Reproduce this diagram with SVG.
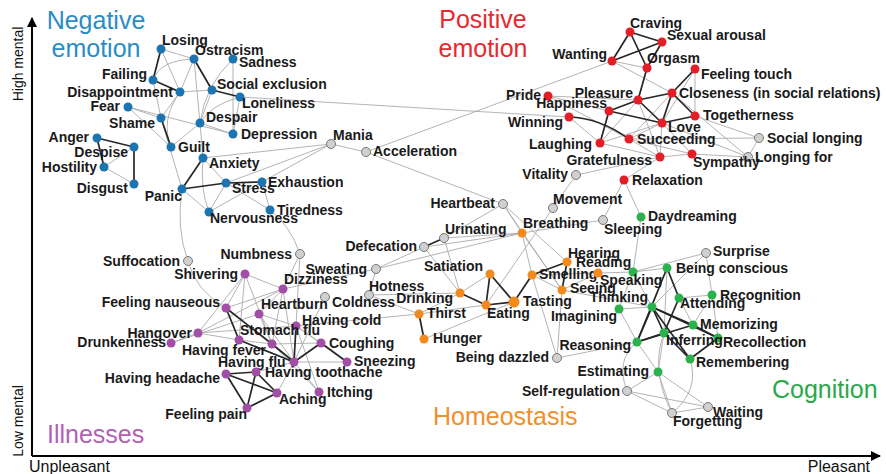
<svg xmlns="http://www.w3.org/2000/svg" width="886" height="474" viewBox="0 0 886 474">
<style>
text{font-family:"Liberation Sans",Arial,Helvetica,sans-serif}
.node text{font-weight:bold;font-size:14px;fill:#1a1a1a}
.e{text-anchor:end}
.node circle{r:4.5}
.blue circle{fill:#1c74b0}
.red circle{fill:#e41e26}
.orange circle{fill:#f28a1e}
.purple circle{fill:#a24ea6}
.green circle{fill:#2bb24c}
.gray circle{fill:#d0d0d0;stroke:#777;stroke-width:1}
.lt path{stroke:#ababab;stroke-width:0.9;fill:none}
.dk path{stroke:#262626;stroke-width:1.7;fill:none}
.cat{font-size:25px}
.ax{font-size:14px;fill:#111}
</style>
<defs>
<marker id="arr" viewBox="0 0 10 10" refX="9" refY="5" markerWidth="5" markerHeight="5" orient="auto"><path d="M0 0L10 5L0 10z" fill="#000"/></marker>
</defs>
<rect width="886" height="474" fill="#fff"/>
<g id="axes" stroke="#000" stroke-width="2" fill="none">
<path d="M32 456L32 18" marker-end="url(#arr)"/>
<path d="M32 456L880 456" marker-end="url(#arr)"/>
</g>
<text class="ax" transform="translate(23,64) rotate(-90)" text-anchor="middle">High mental</text>
<text class="ax" transform="translate(23,421) rotate(-90)" text-anchor="middle">Low mental</text>
<text class="ax" x="29" y="472" style="font-size:16px">Unpleasant</text>
<text class="ax" x="870" y="472" text-anchor="end" style="font-size:16px">Pleasant</text>
<g id="categories" class="cat">
<text x="96" y="29" text-anchor="middle" fill="#2a8cc4">Negative</text>
<text x="96" y="57" text-anchor="middle" fill="#2a8cc4">emotion</text>
<text x="483" y="28" text-anchor="middle" fill="#e8282e">Positive</text>
<text x="483" y="57" text-anchor="middle" fill="#e8282e">emotion</text>
<text x="47" y="443" fill="#b35fb5">Illnesses</text>
<text x="433" y="425" fill="#f0902a">Homeostasis</text>
<text x="772" y="398" fill="#2aa84a">Cognition</text>
</g>
<g id="connectors">
<g class="lt">
<path d="M161 49L194 59"/><path d="M161 49L180 92"/><path d="M194 59L180 92"/><path d="M194 59Q160 60 153 80"/>
<path d="M180 92L212 90"/><path d="M194 59L200 123"/><path d="M233 59Q205 85 200 123"/><path d="M233 59L233 134"/>
<path d="M212 90L200 123"/><path d="M240 97Q210 105 200 123"/><path d="M240 97L233 134"/><path d="M128 107L161 118"/>
<path d="M128 107L171 147"/><path d="M128 107L233 134"/><path d="M200 123L203 158"/><path d="M200 123L233 134"/>
<path d="M161 118L180 92"/><path d="M180 92Q160 120 171 147"/><path d="M153 80L161 118"/><path d="M171 147L200 123"/>
<path d="M203 158L226 183"/><path d="M203 158Q200 190 209 212"/><path d="M182 189L209 212"/><path d="M226 183L209 212"/>
<path d="M226 183L270 210"/><path d="M262 182L270 210"/><path d="M209 212L262 182"/><path d="M203 158L331 144"/>
<path d="M226 183L331 144"/><path d="M262 182L331 144"/><path d="M331 144L366 152"/><path d="M240 97L569 117"/>
<path d="M366 152L612 61"/><path d="M366 152L503 204"/><path d="M182 189Q176 230 188 261"/><path d="M188 261Q195 290 226 308"/>
<path d="M270 210Q290 225 300 254"/><path d="M161 118L182 189"/><path d="M104 167L134 184"/><path d="M134 147L104 167"/>
<path d="M245 274L226 308"/><path d="M245 274L198 333"/><path d="M245 274L239 340"/><path d="M245 274L283 289"/>
<path d="M245 274L272 344"/><path d="M283 289L198 333"/><path d="M283 289L259 314"/><path d="M283 289L272 344"/>
<path d="M283 289L294 362"/><path d="M259 314L272 344"/><path d="M259 314L296 326"/><path d="M259 314L294 362"/>
<path d="M296 326L321 343"/><path d="M296 326L347 362"/><path d="M198 333L296 326"/><path d="M198 333L171 343"/>
<path d="M171 343L259 314"/><path d="M198 333L239 340"/><path d="M294 362L347 362"/><path d="M294 362L256 372"/>
<path d="M294 362L277 393"/><path d="M319 392L294 362"/><path d="M319 392L272 344"/><path d="M319 392L296 326"/>
<path d="M300 254L283 289"/><path d="M300 254L296 326"/><path d="M376 269L283 289"/><path d="M376 269L369 295"/>
<path d="M376 269L424 247"/><path d="M376 269L522 233"/><path d="M325 297L294 362"/><path d="M369 295L460 293"/>
<path d="M369 295L419 314"/><path d="M226 308L283 289"/><path d="M272 344L321 343"/><path d="M239 340L272 344"/>
<path d="M296 326L419 314"/>
<path d="M460 293L490 274"/><path d="M460 293L419 314"/><path d="M460 293L444 238"/><path d="M460 293L424 247"/>
<path d="M522 233L503 204"/><path d="M522 233L444 238"/><path d="M522 233L424 247"/><path d="M522 233L532 275"/>
<path d="M522 233L562 290"/><path d="M522 233L603 220"/><path d="M503 204L567 262"/><path d="M503 204L562 290"/>
<path d="M503 204L444 238"/><path d="M553 208L486 305"/><path d="M553 208L576 175"/><path d="M576 175L660 157"/>
<path d="M532 275L562 290"/><path d="M532 275L598 273"/><path d="M562 290L598 273"/><path d="M562 290L557 358"/>
<path d="M424 339L514 302"/><path d="M419 314L486 305"/><path d="M532 275L557 358"/>
<path d="M612 61L647 68"/><path d="M612 61L672 93"/><path d="M548 96L638 100"/><path d="M548 96L609 111"/>
<path d="M548 96L629 139"/><path d="M629 139L662 123"/><path d="M629 139L692 154"/><path d="M629 139L660 157"/>
<path d="M759 138L748 157"/><path d="M759 138L629 139"/><path d="M759 138L695 116"/><path d="M748 157L662 123"/>
<path d="M748 157L672 93"/><path d="M600 143L660 157"/><path d="M660 157L692 154"/><path d="M660 157L638 100"/>
<path d="M660 157L662 123"/><path d="M660 157L624 180"/><path d="M692 154L662 123"/><path d="M692 154L748 157"/>
<path d="M624 180L603 220"/><path d="M624 180L641 217"/><path d="M695 69L695 116"/><path d="M695 69L662 123"/>
<path d="M672 93L629 139"/><path d="M569 117L600 143"/><path d="M600 143L638 100"/><path d="M600 143L662 123"/>
<path d="M633 272L667 268"/><path d="M633 272L652 307"/><path d="M633 272L619 309"/><path d="M633 272L641 217"/>
<path d="M706 253L633 272"/><path d="M706 253L712 295"/><path d="M712 295L693 325"/><path d="M712 295L718 338"/>
<path d="M679 298L712 295"/><path d="M667 268L652 307"/><path d="M619 309L652 307"/><path d="M619 309L637 342"/>
<path d="M658 372L637 342"/><path d="M658 372L664 333"/><path d="M658 372L627 391"/><path d="M658 372L708 407"/>
<path d="M627 391L708 407"/><path d="M672 413L708 407"/><path d="M672 413Q700 390 690 359"/><path d="M672 413Q650 370 664 333"/>
<path d="M627 391Q615 360 637 342"/><path d="M637 342L557 358"/><path d="M598 273L633 272"/><path d="M562 290L652 307"/>
<path d="M667 268L664 333"/><path d="M679 298L693 325"/><path d="M706 253L652 307"/><path d="M672 413L627 391"/>
<path d="M672 413L658 372"/>
</g>
<g class="dk">
<path d="M161 49L153 80"/><path d="M153 80L180 92"/><path d="M194 59L212 90"/><path d="M212 90L240 97"/>
<path d="M161 118L171 147"/><path d="M97 138L134 147"/><path d="M97 138L104 167"/><path d="M134 147L134 184"/>
<path d="M182 189L226 183"/><path d="M226 183L262 182"/><path d="M182 189L203 158"/>
<path d="M226 308L239 340"/><path d="M239 340L294 362"/><path d="M272 344L294 362"/><path d="M294 362L321 343"/>
<path d="M321 343L347 362"/><path d="M294 362L296 326"/><path d="M226 374L256 372"/><path d="M226 374L277 393"/>
<path d="M226 374L247 408"/><path d="M256 372L277 393"/><path d="M256 372L247 408"/><path d="M247 408L277 393"/>
<path d="M226 308L272 344"/>
<path d="M444 238L424 247"/><path d="M490 274L486 305"/><path d="M490 274L514 302"/><path d="M460 293L486 305"/>
<path d="M486 305L514 302"/><path d="M514 302L532 275"/><path d="M419 314L424 339"/><path d="M567 262L532 275"/>
<path d="M567 262L562 290"/>
<path d="M630 32L612 61"/><path d="M630 32L647 68"/><path d="M630 32L662 42"/><path d="M612 61L662 42"/>
<path d="M662 42L647 68"/><path d="M647 68L638 100"/><path d="M638 100L672 93"/><path d="M638 100L609 111"/>
<path d="M638 100L662 123"/><path d="M672 93L662 123"/><path d="M672 93L695 116"/><path d="M662 123L695 116"/>
<path d="M609 111L600 143"/><path d="M695 69L672 93"/><path d="M609 111L662 123"/><path d="M569 117Q600 118 629 139"/>
<path d="M652 307L693 325"/><path d="M652 307L718 338"/><path d="M652 307L664 333"/><path d="M652 307L637 342"/>
<path d="M652 307L690 359"/><path d="M667 268L679 298"/><path d="M667 268L637 342"/><path d="M637 342L693 325"/>
<path d="M664 333L690 359"/><path d="M718 338L690 359"/><path d="M664 333L637 342"/><path d="M679 298L664 333"/>
<path d="M693 325L718 338"/>
</g>
</g>
<g id="nodes">
<g id="n-losing" class="node blue"><circle cx="161" cy="49"/><text x="162" y="45">Losing</text></g>
<g id="n-ostracism" class="node blue"><circle cx="194" cy="59"/><text x="195" y="55">Ostracism</text></g>
<g id="n-sadness" class="node blue"><circle cx="233" cy="59"/><text x="239" y="67">Sadness</text></g>
<g id="n-failing" class="node blue"><circle cx="153" cy="80"/><text class="e" x="147" y="79">Failing</text></g>
<g id="n-disappointment" class="node blue"><circle cx="180" cy="92"/><text class="e" x="173" y="97">Disappointment</text></g>
<g id="n-social-exclusion" class="node blue"><circle cx="212" cy="90"/><text x="217" y="89">Social exclusion</text></g>
<g id="n-loneliness" class="node blue"><circle cx="240" cy="97"/><text x="242" y="108">Loneliness</text></g>
<g id="n-fear" class="node blue"><circle cx="128" cy="107"/><text class="e" x="120" y="111">Fear</text></g>
<g id="n-shame" class="node blue"><circle cx="161" cy="118"/><text class="e" x="155" y="128">Shame</text></g>
<g id="n-despair" class="node blue"><circle cx="200" cy="123"/><text x="206" y="122">Despair</text></g>
<g id="n-depression" class="node blue"><circle cx="233" cy="134"/><text x="241" y="139">Depression</text></g>
<g id="n-anger" class="node blue"><circle cx="97" cy="138"/><text class="e" x="89" y="142">Anger</text></g>
<g id="n-despise" class="node blue"><circle cx="134" cy="147"/><text class="e" x="128" y="157">Despise</text></g>
<g id="n-guilt" class="node blue"><circle cx="171" cy="147"/><text x="178" y="152">Guilt</text></g>
<g id="n-anxiety" class="node blue"><circle cx="203" cy="158"/><text x="209" y="168">Anxiety</text></g>
<g id="n-hostility" class="node blue"><circle cx="104" cy="167"/><text class="e" x="97" y="172">Hostility</text></g>
<g id="n-disgust" class="node blue"><circle cx="134" cy="184"/><text class="e" x="128" y="193">Disgust</text></g>
<g id="n-panic" class="node blue"><circle cx="182" cy="189"/><text class="e" x="182" y="201">Panic</text></g>
<g id="n-stress" class="node blue"><circle cx="226" cy="183"/><text x="232" y="193">Stress</text></g>
<g id="n-exhaustion" class="node blue"><circle cx="262" cy="182"/><text x="268" y="187">Exhaustion</text></g>
<g id="n-nervousness" class="node blue"><circle cx="209" cy="212"/><text x="210" y="223">Nervousness</text></g>
<g id="n-tiredness" class="node blue"><circle cx="270" cy="210"/><text x="277" y="215">Tiredness</text></g>

<g id="n-mania" class="node gray"><circle cx="331" cy="144"/><text x="333" y="140">Mania</text></g>
<g id="n-acceleration" class="node gray"><circle cx="366" cy="152"/><text x="373" y="156">Acceleration</text></g>
<g id="n-heartbeat" class="node gray"><circle cx="503" cy="204"/><text class="e" x="495" y="208">Heartbeat</text></g>
<g id="n-urinating" class="node gray"><circle cx="444" cy="238"/><text x="445" y="234">Urinating</text></g>
<g id="n-defecation" class="node gray"><circle cx="424" cy="247"/><text class="e" x="417" y="251">Defecation</text></g>
<g id="n-vitality" class="node gray"><circle cx="576" cy="175"/><text class="e" x="568" y="179">Vitality</text></g>
<g id="n-movement" class="node gray"><circle cx="553" cy="208"/><text x="553" y="204">Movement</text></g>
<g id="n-sleeping" class="node gray"><circle cx="603" cy="220"/><text x="604" y="234">Sleeping</text></g>
<g id="n-suffocation" class="node gray"><circle cx="188" cy="261"/><text class="e" x="180" y="266">Suffocation</text></g>
<g id="n-numbness" class="node gray"><circle cx="300" cy="254"/><text class="e" x="292" y="259">Numbness</text></g>
<g id="n-sweating" class="node gray"><circle cx="376" cy="269"/><text class="e" x="367" y="274">Sweating</text></g>
<g id="n-hotness" class="node gray"><circle cx="369" cy="295"/><text x="369" y="291">Hotness</text></g>
<g id="n-coldness" class="node gray"><circle cx="325" cy="297"/><text x="332" y="307">Coldness</text></g>
<g id="n-being-dazzled" class="node gray"><circle cx="557" cy="358"/><text class="e" x="549" y="362">Being dazzled</text></g>
<g id="n-self-regulation" class="node gray"><circle cx="627" cy="391"/><text class="e" x="620" y="396">Self-regulation</text></g>
<g id="n-surprise" class="node gray"><circle cx="706" cy="253"/><text x="713" y="256">Surprise</text></g>
<g id="n-waiting" class="node gray"><circle cx="708" cy="407"/><text x="713" y="417">Waiting</text></g>
<g id="n-forgetting" class="node gray"><circle cx="672" cy="413"/><text x="673" y="426">Forgetting</text></g>
<g id="n-social-longing" class="node gray"><circle cx="759" cy="138"/><text x="767" y="143">Social longing</text></g>
<g id="n-longing-for" class="node gray"><circle cx="748" cy="157"/><text x="755" y="162">Longing for</text></g>

<g id="n-craving" class="node red"><circle cx="630" cy="32"/><text x="630" y="28">Craving</text></g>
<g id="n-sexual-arousal" class="node red"><circle cx="662" cy="42"/><text x="667" y="40">Sexual arousal</text></g>
<g id="n-wanting" class="node red"><circle cx="612" cy="61"/><text class="e" x="607" y="59">Wanting</text></g>
<g id="n-orgasm" class="node red"><circle cx="647" cy="68"/><text x="647" y="63">Orgasm</text></g>
<g id="n-feeling-touch" class="node red"><circle cx="695" cy="69"/><text x="701" y="79">Feeling touch</text></g>
<g id="n-closeness" class="node red"><circle cx="672" cy="93"/><text x="679" y="98">Closeness (in social relations)</text></g>
<g id="n-pleasure" class="node red"><circle cx="638" cy="100"/><text class="e" x="633" y="98">Pleasure</text></g>
<g id="n-pride" class="node red"><circle cx="548" cy="96"/><text class="e" x="541" y="100">Pride</text></g>
<g id="n-happiness" class="node red"><circle cx="609" cy="111"/><text class="e" x="607" y="108">Happiness</text></g>
<g id="n-winning" class="node red"><circle cx="569" cy="117"/><text class="e" x="563" y="127">Winning</text></g>
<g id="n-togetherness" class="node red"><circle cx="695" cy="116"/><text x="703" y="120">Togetherness</text></g>
<g id="n-love" class="node red"><circle cx="662" cy="123"/><text x="668" y="132">Love</text></g>
<g id="n-succeeding" class="node red"><circle cx="629" cy="139"/><text x="637" y="144">Succeeding</text></g>
<g id="n-laughing" class="node red"><circle cx="600" cy="143"/><text class="e" x="592" y="149">Laughing</text></g>
<g id="n-gratefulness" class="node red"><circle cx="660" cy="157"/><text class="e" x="652" y="165">Gratefulness</text></g>
<g id="n-sympathy" class="node red"><circle cx="692" cy="154"/><text x="693" y="167">Sympathy</text></g>
<g id="n-relaxation" class="node red"><circle cx="624" cy="180"/><text x="632" y="185">Relaxation</text></g>

<g id="n-breathing" class="node orange"><circle cx="522" cy="233"/><text x="523" y="228">Breathing</text></g>
<g id="n-satiation" class="node orange"><circle cx="490" cy="274"/><text class="e" x="483" y="271">Satiation</text></g>
<g id="n-drinking" class="node orange"><circle cx="460" cy="293"/><text class="e" x="453" y="303">Drinking</text></g>
<g id="n-eating" class="node orange"><circle cx="486" cy="305"/><text x="487" y="318">Eating</text></g>
<g id="n-tasting" class="node orange"><circle cx="514" cy="302" style="r:5.5"/><text x="523" y="306">Tasting</text></g>
<g id="n-smelling" class="node orange"><circle cx="532" cy="275"/><text x="539" y="279">Smelling</text></g>
<g id="n-hearing" class="node orange"><circle cx="567" cy="262"/><text x="568" y="258">Hearing</text></g>
<g id="n-reading" class="node orange"><circle cx="598" cy="273"/><text x="576" y="267">Reading</text></g>
<g id="n-seeing" class="node orange"><circle cx="562" cy="290"/><text x="570" y="293">Seeing</text></g>
<g id="n-thirst" class="node orange"><circle cx="419" cy="314"/><text x="427" y="318">Thirst</text></g>
<g id="n-hunger" class="node orange"><circle cx="424" cy="339"/><text x="433" y="343">Hunger</text></g>

<g id="n-shivering" class="node purple"><circle cx="245" cy="274"/><text class="e" x="238" y="279">Shivering</text></g>
<g id="n-dizziness" class="node purple"><circle cx="283" cy="289"/><text x="284" y="284">Dizziness</text></g>
<g id="n-feeling-nauseous" class="node purple"><circle cx="226" cy="308"/><text class="e" x="220" y="307">Feeling nauseous</text></g>
<g id="n-heartburn" class="node purple"><circle cx="259" cy="314"/><text x="261" y="309">Heartburn</text></g>
<g id="n-having-cold" class="node purple"><circle cx="296" cy="326"/><text x="302" y="325">Having cold</text></g>
<g id="n-hangover" class="node purple"><circle cx="198" cy="333"/><text class="e" x="192" y="338">Hangover</text></g>
<g id="n-drunkenness" class="node purple"><circle cx="171" cy="343"/><text class="e" x="166" y="347">Drunkenness</text></g>
<g id="n-stomach-flu" class="node purple"><circle cx="272" cy="344"/><text x="240" y="335">Stomach flu</text></g>
<g id="n-having-fever" class="node purple"><circle cx="239" cy="340"/><text x="182" y="355">Having fever</text></g>
<g id="n-coughing" class="node purple"><circle cx="321" cy="343"/><text x="329" y="348">Coughing</text></g>
<g id="n-having-flu" class="node purple"><circle cx="294" cy="362"/><text x="218" y="367">Having flu</text></g>
<g id="n-sneezing" class="node purple"><circle cx="347" cy="362"/><text x="354" y="366">Sneezing</text></g>
<g id="n-having-toothache" class="node purple"><circle cx="256" cy="372"/><text x="265" y="377">Having toothache</text></g>
<g id="n-having-headache" class="node purple"><circle cx="226" cy="374"/><text class="e" x="220" y="383">Having headache</text></g>
<g id="n-aching" class="node purple"><circle cx="277" cy="393"/><text x="279" y="404">Aching</text></g>
<g id="n-itching" class="node purple"><circle cx="319" cy="392"/><text x="327" y="397">Itching</text></g>
<g id="n-feeling-pain" class="node purple"><circle cx="247" cy="408"/><text class="e" x="247" y="419">Feeling pain</text></g>

<g id="n-daydreaming" class="node green"><circle cx="641" cy="217"/><text x="648" y="221">Daydreaming</text></g>
<g id="n-speaking" class="node green"><circle cx="633" cy="272"/><text x="600" y="285">Speaking</text></g>
<g id="n-being-conscious" class="node green"><circle cx="667" cy="268"/><text x="676" y="273">Being conscious</text></g>
<g id="n-attending" class="node green"><circle cx="679" cy="298"/><text x="680" y="308">Attending</text></g>
<g id="n-recognition" class="node green"><circle cx="712" cy="295"/><text x="720" y="300">Recognition</text></g>
<g id="n-thinking" class="node green"><circle cx="652" cy="307"/><text class="e" x="648" y="302">Thinking</text></g>
<g id="n-imagining" class="node green"><circle cx="619" cy="309"/><text class="e" x="617" y="321">Imagining</text></g>
<g id="n-memorizing" class="node green"><circle cx="693" cy="325"/><text x="700" y="329">Memorizing</text></g>
<g id="n-recollection" class="node green"><circle cx="718" cy="338"/><text x="723" y="347">Recollection</text></g>
<g id="n-inferring" class="node green"><circle cx="664" cy="333"/><text x="666" y="345">Inferring</text></g>
<g id="n-reasoning" class="node green"><circle cx="637" cy="342"/><text class="e" x="631" y="350">Reasoning</text></g>
<g id="n-remembering" class="node green"><circle cx="690" cy="359"/><text x="696" y="367">Remembering</text></g>
<g id="n-estimating" class="node green"><circle cx="658" cy="372"/><text class="e" x="649" y="376">Estimating</text></g>
</g>
</svg>
